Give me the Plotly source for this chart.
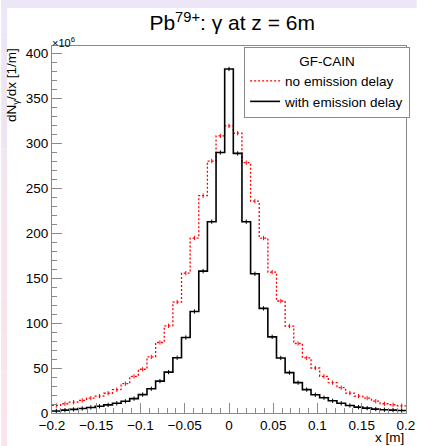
import numpy as np
import plotly.graph_objects as go

# 41 bins over [-0.2, 0.2]
x_min, x_max, n_bins = -0.2, 0.2, 41

# dN/dx in units of 1e6 [1/m], bins left -> right
no_delay = [8.4, 10.3, 12.1, 14.0, 16.6, 18.8, 22.0, 26.0, 32.6, 40.8,
            48.7, 62.4, 78.5, 97.1, 123.5, 155.7, 194.8, 242.0, 280.5, 308.5,
            319.7,
            311.5, 278.7, 235.8, 194.8, 156.8, 124.7, 96.8, 77.4, 61.3, 50.1,
            40.8, 33.8, 28.2, 22.2, 18.8, 16.6, 13.2, 10.3, 9.2, 8.0]
with_delay = [2.3, 3.2, 4.0, 5.0, 6.2, 7.5, 9.0, 10.8, 13.0, 16.0,
              20.5, 27.0, 35.5, 45.5, 61.5, 84.0, 113.0, 158.0, 213.0, 290.0,
              383.0,
              289.0, 213.0, 155.0, 116.5, 84.8, 61.3, 45.0, 33.8, 26.0, 20.3,
              17.0, 13.6, 10.8, 8.4, 6.5, 5.4, 4.3, 3.6, 3.2, 2.8]

edges = np.linspace(x_min, x_max, n_bins + 1)
centers = 0.5 * (edges[:-1] + edges[1:])

FONT = "Liberation Sans, Arial, Helvetica, sans-serif"

fig = go.Figure()

def add_hist(vals, name, color, dash, width):
    ys = list(vals) + [vals[-1]]
    fig.add_trace(go.Scatter(x=edges, y=ys, mode="lines", line_shape="hv",
                             line=dict(color=color, width=width, dash=dash),
                             name=name, showlegend=True, cliponaxis=True))
    fig.add_trace(go.Scatter(x=centers, y=vals, mode="markers",
                             marker=dict(size=0.1, color=color),
                             error_y=dict(type="constant", value=2.4, color=color,
                                          thickness=1, width=0),
                             showlegend=False, hoverinfo="skip"))

add_hist(no_delay, "no emission delay", "#ff0000", "2px,2px", 1.3)
add_hist(with_delay, "with emission delay", "#000000", "solid", 1.6)

axis_common = dict(showline=True, linecolor="#8a8a8a", linewidth=1, mirror=True,
                   ticks="inside", tickcolor="#8a8a8a", ticklen=10, showgrid=False,
                   zeroline=False, tickfont=dict(family=FONT, size=13.5, color="black"))

fig.update_xaxes(range=[x_min, x_max],
                 tickvals=[-0.2, -0.15, -0.1, -0.05, 0, 0.05, 0.1, 0.15, 0.2],
                 ticktext=["\u22120.2", "\u22120.15", "\u22120.1", "\u22120.05", "0",
                           "0.05", "0.1", "0.15", "0.2"],
                 minor=dict(ticks="inside", ticklen=5, tickcolor="#8a8a8a", dtick=0.01,
                            tick0=0, showgrid=False),
                 **axis_common)
fig.update_yaxes(range=[0, 408.6], tick0=0, dtick=50,
                 minor=dict(ticks="inside", ticklen=5, tickcolor="#8a8a8a", dtick=10,
                            tick0=0, showgrid=False),
                 **axis_common)

# background strips (window border)
shapes = []
n = 12
top_c = np.array([236, 230, 246])
bot_c = np.array([250, 228, 234])
for i in range(n):
    c = top_c + (bot_c - top_c) * i / (n - 1)
    shapes.append(dict(type="rect", xref="paper", yref="paper", layer="above",
                       x0=-52/363, x1=-46/363,
                       y0=(413 - 446 * (i + 1) / n) / 367, y1=(413 - 446 * i / n) / 367,
                       fillcolor="rgb(%d,%d,%d)" % tuple(c), line=dict(width=0)))
shapes.append(dict(type="rect", xref="paper", yref="paper", layer="above",
                   x0=-52/363, x1=374/363, y0=(413 - 8) / 367, y1=413 / 367,
                   fillcolor="rgb(236,230,246)", line=dict(width=0)))

fig.update_layout(
    width=426, height=446,
    margin=dict(l=52, r=11, t=46, b=33),
    paper_bgcolor="white", plot_bgcolor="white",
    font=dict(family=FONT, size=13.5, color="black"),
    title=dict(text="Pb<sup>79+</sup>: \u03b3 at z = 6m", x=0.545, xanchor="center",
               y=1 - 23/446, yanchor="middle", yref="container",
               font=dict(family=FONT, size=21, color="black")),
    legend=dict(x=(249-52)/363, y=(413-47)/367, xanchor="left", yanchor="top",
                bordercolor="#8a8a8a", borderwidth=1, bgcolor="white",
                font=dict(family=FONT, size=13.5),
                title=dict(text="GF-CAIN", side="top center", font=dict(family=FONT, size=13.5)),
                tracegroupgap=0, itemwidth=30),
    shapes=shapes,
    annotations=[
        dict(text="dN<sub>\u03b3</sub>/dx [1/m]", textangle=-90, xref="paper", yref="paper",
             x=(11-52)/363, y=1.0, xanchor="center", yanchor="top", showarrow=False,
             font=dict(family=FONT, size=13.5)),
        dict(text="\u00d710<sup>6</sup>", xref="paper", yref="paper",
             x=(50-52)/363, y=(413-42)/367, xanchor="left", yanchor="middle", showarrow=False,
             font=dict(family=FONT, size=11)),
        dict(text="x [m]", xref="paper", yref="paper", x=1.0, y=(413-437.5)/367,
             xanchor="right", yanchor="middle", showarrow=False,
             font=dict(family=FONT, size=13.5)),
    ],
)

fig.write_html("out.html")
